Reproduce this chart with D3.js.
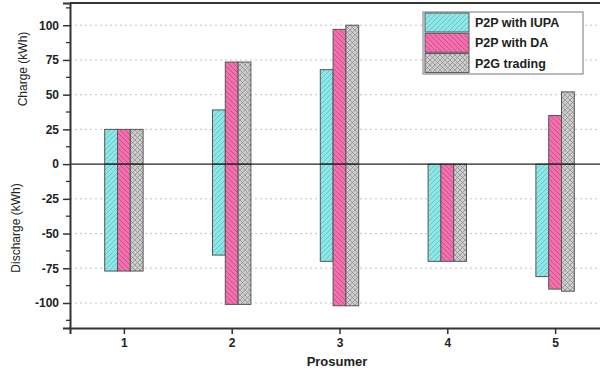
<!DOCTYPE html>
<html><head><meta charset="utf-8">
<script src="https://cdn.jsdelivr.net/npm/d3@7"></script>
<style>
html,body{margin:0;padding:0;background:#fff;}
svg{display:block;font-family:Arial,"Liberation Sans",sans-serif;}
</style></head>
<body><svg id="c" width="600" height="374"></svg>
<script>
const prosumers = [1, 2, 3, 4, 5];
const seriesNames = ["P2P with IUPA", "P2P with DA", "P2G trading"];
const chargeIUPA = [25, 39, 68, 0, 0];
const dischargeIUPA = [-77, -65.5, -70, -70, -81];
const chargeDA = [25, 73.5, 97, 0, 35];
const dischargeDA = [-77, -101, -102, -70, -90];
const chargeP2G = [25, 73.5, 100, 0, 52];
const dischargeP2G = [-77, -101, -102, -70, -91.5];
const yTicks = [-100, -75, -50, -25, 0, 25, 50, 75, 100];
const yMinorTicks = [-112.5, -87.5, -62.5, -37.5, -12.5, 12.5, 37.5, 62.5, 87.5, 112.5];

const fills = ["#8fe6e6", "#f270ae", "#cdcdcd"];
const hatchCol = ["#4fbcbc", "#c0407e", "#8a8a8a"];
const charges = [chargeIUPA, chargeDA, chargeP2G];
const discharges = [dischargeIUPA, dischargeDA, dischargeP2G];

const svg = d3.select("#c");
const L = 70, R = 609, T = 3, B = 328;
const x = d3.scaleLinear().domain([0.5, 5.5]).range([L, R]);
const y = d3.scaleLinear().domain([-118, 116]).range([B, T]);

// patterns
const defs = svg.append("defs");
function pat(id, fill, col, kind) {
  const p = defs.append("pattern").attr("id", id).attr("patternUnits", "userSpaceOnUse")
    .attr("width", 5).attr("height", 5);
  p.append("rect").attr("width", 5).attr("height", 5).attr("fill", fill);
  if (kind === "fwd" || kind === "x") {
    p.append("path").attr("d", "M-1,6 L6,-1 M-3,3 L3,-3 M2,8 L8,2").attr("stroke", col).attr("stroke-width", 0.7);
  }
  if (kind === "back" || kind === "x") {
    p.append("path").attr("d", "M-1,-1 L6,6 M-3,2 L3,8 M2,-3 L8,3").attr("stroke", col).attr("stroke-width", 0.7);
  }
}
pat("p0", fills[0], hatchCol[0], "fwd");
pat("p1", fills[1], hatchCol[1], "back");
pat("p2", fills[2], hatchCol[2], "x");

// gridlines
svg.append("g").selectAll("line").data(yTicks.filter(d => d !== 0)).join("line")
  .attr("x1", L).attr("x2", R).attr("y1", d => y(d)).attr("y2", d => y(d))
  .attr("stroke", "#c4c4c4").attr("stroke-width", 1).attr("stroke-dasharray", "2,3");

// bars
const bw = 12.8;
const gBars = svg.append("g");
seriesNames.forEach((s, si) => {
  const off = (si - 1) * bw;
  const rows = [];
  prosumers.forEach((p, i) => {
    if (charges[si][i] !== 0) rows.push({p, v0: 0, v1: charges[si][i]});
    if (discharges[si][i] !== 0) rows.push({p, v0: discharges[si][i], v1: 0});
  });
  gBars.selectAll(null).data(rows).join("rect")
    .attr("x", d => x(d.p) + off - bw / 2)
    .attr("width", bw)
    .attr("y", d => y(d.v1))
    .attr("height", d => y(d.v0) - y(d.v1))
    .attr("fill", `url(#p${si})`)
    .attr("stroke", "#555").attr("stroke-width", 1);
});

// zero line
svg.append("line").attr("x1", L).attr("x2", R).attr("y1", y(0)).attr("y2", y(0))
  .attr("stroke", "#222").attr("stroke-width", 1.2);

// frame
svg.append("line").attr("x1", L).attr("x2", 600).attr("y1", T).attr("y2", T).attr("stroke", "#333").attr("stroke-width", 2);

const fmt = d => String(d);

// y axis
const yAxis = svg.append("g").attr("transform", `translate(${L},0)`)
  .call(d3.axisLeft(y).tickValues(yTicks).tickSize(7).tickPadding(4).tickFormat(fmt));
yAxis.select(".domain").attr("stroke", "#333").attr("stroke-width", 2);
yAxis.selectAll(".tick line").attr("stroke", "#333").attr("stroke-width", 1.5);
yAxis.selectAll("text").attr("font-size", 12).attr("font-weight", "bold").attr("fill", "#222");
svg.append("g").selectAll("line").data(yMinorTicks).join("line")
  .attr("x1", L - 4).attr("x2", L).attr("y1", d => y(d)).attr("y2", d => y(d))
  .attr("stroke", "#333").attr("stroke-width", 1.3);

// x axis
const xAxis = svg.append("g").attr("transform", `translate(0,${B})`)
  .call(d3.axisBottom(x).tickValues(prosumers).tickSize(6).tickPadding(4).tickFormat(fmt));
xAxis.select(".domain").attr("stroke", "#333").attr("stroke-width", 2);
xAxis.selectAll(".tick line").attr("stroke", "#333").attr("stroke-width", 1.5);
xAxis.selectAll("text").attr("font-size", 12).attr("font-weight", "bold").attr("fill", "#222");

// axis titles
svg.append("text").attr("x", 337).attr("y", 366).attr("text-anchor", "middle")
  .attr("font-size", 13).attr("font-weight", "bold").attr("fill", "#222").text("Prosumer");
svg.append("text").attr("transform", "translate(27,69) rotate(-90)").attr("text-anchor", "middle")
  .attr("font-size", 12).attr("fill", "#222").text("Charge (kWh)");
svg.append("text").attr("transform", "translate(20,228) rotate(-90)").attr("text-anchor", "middle")
  .attr("font-size", 12).attr("fill", "#222").text("Discharge (kWh)");

// legend
const lg = svg.append("g");
lg.append("rect").attr("x", 423).attr("y", 12).attr("width", 160).attr("height", 62)
  .attr("fill", "#fff").attr("stroke", "#777").attr("stroke-width", 1);
seriesNames.forEach((s, si) => {
  const yy = 13 + si * 20.3;
  lg.append("rect").attr("x", 425).attr("y", yy).attr("width", 44).attr("height", 19)
    .attr("fill", `url(#p${si})`).attr("stroke", "#555").attr("stroke-width", 1);
  lg.append("text").attr("x", 475).attr("y", yy + 14).attr("font-size", 12.5)
    .attr("font-weight", "bold").attr("fill", "#222").text(s);
});
</script></body></html>
